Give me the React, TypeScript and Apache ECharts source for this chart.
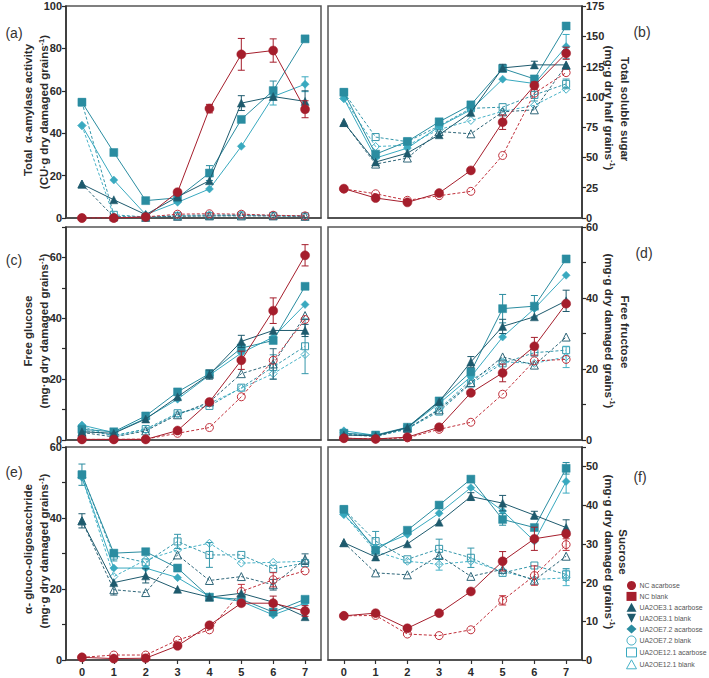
import React, { useEffect, useRef } from 'react';
import * as echarts from 'echarts';

const days = ['0', '1', '2', '3', '4', '5', '6', '7'];

// (a) Total alpha-amylase activity
const amyNCa = [0, 0, 0.5, 12.2, 51.6, 77.2, 79, 51.3];
const amyNCb = [0, 0, 0.5, 1.8, 2, 1.8, 1.3, 1];
const amyE3a = [16, 8.6, 1.6, 10, 17.6, 54.2, 57.3, 55];
const amyE3b = [16, 0.5, 0.3, 0.8, 1, 1, 1, 0.8];
const amyE7a = [43.6, 17.9, 1.6, 7.4, 13.7, 33.8, 57.3, 63.1];
const amyE7b = [43.6, 0.8, 0.3, 1.2, 1.5, 1.5, 1.2, 1];
const amyE12a = [54.6, 30.9, 8.2, 9.5, 21.2, 46.5, 60.1, 84.5];
const amyE12b = [54.6, 1.5, 0.5, 1, 1, 1.2, 1, 0.8];

// (b) Total soluble sugar
const sugNCa = [24.2, 16.5, 12.9, 20.6, 39.3, 79.1, 109.3, 136];
const sugNCb = [24, 20, 14.6, 18.4, 22, 51.6, 103, 120];
const sugE3a = [78.8, 46.2, 53.6, 68.7, 87, 123.9, 126.4, 126.4];
const sugE3b = [78.8, 44.5, 49.5, 71.4, 69.5, 87.6, 89.3, 126];
const sugE7a = [98.6, 49.5, 57.7, 75.5, 89.3, 114.6, 111, 141.5];
const sugE7b = [98.6, 59, 60, 73, 80.5, 88, 93, 106.3];
const sugE12a = [103.8, 52.7, 63.2, 79.4, 93.4, 123.4, 114.8, 158.5];
const sugE12b = [103.8, 66.8, 63, 76, 90.5, 91.5, 101.6, 110.7];

// (c) Free glucose
const gluNCa = [0.2, 0.2, 0.2, 3.1, 12.5, 26.2, 42.5, 60.7];
const gluNCb = [0.2, 0.2, 0.3, 2.2, 4.1, 14.2, 26.2, 39.6];
const gluE3a = [2.7, 2.2, 6.9, 14.2, 21.5, 32.4, 36, 36];
const gluE3b = [2.5, 1.0, 3.0, 8.3, 12.5, 21.8, 25, 40.9];
const gluE7a = [4.9, 2.4, 7.1, 13.4, 21.3, 28.6, 33.8, 44.5];
const gluE7b = [4.5, 1.2, 3.3, 8.5, 12, 17, 21.8, 28.1];
const gluE12a = [3.5, 2.7, 7.9, 15.8, 21.8, 30.2, 32.7, 50.5];
const gluE12b = [3.3, 1.5, 3.6, 8.8, 11.2, 17.2, 24, 30.8];

// (d) Free fructose
const fruNCa = [0.5, 0.3, 0.8, 3.6, 13.3, 18.9, 26.4, 38.4];
const fruNCb = [0.5, 0.3, 0.6, 3, 5, 12.9, 22.3, 22.7];
const fruE3a = [1.4, 1.2, 3.5, 10.8, 22, 32, 34.7, 39.2];
const fruE3b = [1.5, 1, 3.3, 8.5, 16.2, 23.4, 21.1, 29];
const fruE7a = [2.6, 1.3, 3.4, 10.3, 17.8, 29, 37, 46.4];
const fruE7b = [2, 1, 3, 8.8, 16.9, 22, 21.6, 23.4];
const fruE12a = [1.9, 1.4, 3.6, 11, 19.2, 37, 37.7, 51];
const fruE12b = [1.8, 1.2, 3.2, 8, 15.9, 21.6, 24.6, 25.3];

// (e) alpha-gluco-oligosaccharide
const oliNCa = [0.75, 0.4, 0.5, 4.0, 9.8, 16, 16, 13.8];
const oliNCb = [0.75, 1.4, 1.4, 5.6, 8.5, 19.3, 22.6, 25.1];
const oliE3a = [39.2, 21.8, 23.7, 19.9, 17.7, 18.8, 16.3, 12.2];
const oliE3b = [39.2, 19.8, 19, 29.6, 22.4, 23.5, 21.2, 28.4];
const oliE7a = [51.5, 25.9, 25.9, 23.2, 17.9, 16.5, 12.7, 16];
const oliE7b = [51.5, 23.5, 28.2, 31, 32.9, 27.3, 27.5, 27.8];
const oliE12a = [52.2, 30.1, 30.5, 25.9, 17.7, 17.1, 13.5, 17.1];
const oliE12b = [52.2, 29.4, 27.5, 33.4, 29.6, 29.6, 25.7, 27.3];

// (f) Sucrose
const sucNCa = [11.4, 12.1, 8.2, 12.1, 17.7, 25.5, 31.3, 32.6];
const sucNCb = [11.4, 11.5, 6.7, 6.3, 7.8, 15.4, 21.8, 29.8];
const sucE3a = [30.3, 26.6, 30, 35.6, 42.2, 40.5, 37.4, 34.2];
const sucE3b = [30.3, 22.5, 22, 27, 21.6, 23.4, 20.6, 26.8];
const sucE7a = [37.6, 29, 32.4, 37.9, 44.5, 38.5, 30.7, 46.1];
const sucE7b = [37.6, 28, 25.5, 24.7, 25.5, 22.9, 20.8, 21.2];
const sucE12a = [38.9, 28.3, 33.5, 40, 46.7, 36.3, 34.2, 49.5];
const sucE12b = [38.9, 30.7, 26, 28.7, 26.4, 22.5, 24.4, 22.1];

// error bars (half-lengths)
const amyErrNCa = [0, 0, 0, 1, 2, 7.5, 5.5, 4];
const amyErrE12a = [0, 0, 0, 0, 3.5, 0, 4.5, 0];
const amyErrE7a = [0, 0, 0, 0, 0, 0, 4, 3.5];
const amyErrE3a = [0, 0, 0, 0, 0, 3.5, 0, 5];
const sugErrNCa = [0, 0, 0, 0, 0, 6, 3, 5];
const sugErrE3a = [0, 0, 0, 0, 0, 3, 3, 0];
const sugErrE7a = [0, 0, 0, 0, 0, 0, 0, 10];
const sugErrE12b = [0, 0, 0, 0, 0, 0, 5, 4];
const gluErrNCa = [0, 0, 0, 0, 0, 3, 4.2, 3.5];
const gluErrE3a = [0, 0, 0, 0, 1.5, 2, 0, 2];
const gluErrE12b = [0, 0, 0, 0, 0, 0, 4, 9];
const gluErrE3b = [0, 0, 0, 0, 0, 0, 5, 0];
const fruErrE12a = [0, 0, 0, 0, 0, 4, 3, 0];
const fruErrNCa = [0, 0, 0, 0, 0, 2.5, 2.5, 0];
const fruErrE3a = [0, 0, 0, 0, 1.5, 2, 0, 3];
const fruErrE7b = [0, 0, 0, 0, 0, 0, 0, 3];
const oliErrE12a = [3, 0, 0, 0, 0, 0, 0, 0];
const oliErrE3a = [2, 0, 2, 0, 0, 0, 0, 0];
const oliErrE12b = [0, 1.5, 0, 2, 3.5, 0, 0, 0];
const oliErrE3b = [0, 1.5, 0, 0, 0, 0, 1.5, 1.5];
const oliErrNCb = [0, 0, 0, 0, 0, 2, 2, 0];
const oliErrNCa = [0, 0, 0, 0, 0, 0, 2, 1.5];
const sucErrE12b = [0, 2.5, 0, 2.5, 2.5, 0, 0, 1.5];
const sucErrE7b = [0, 0, 0, 1.5, 0, 0, 0, 2];
const sucErrNCa = [0, 0, 0, 0, 0, 2.5, 3, 0];
const sucErrE3a = [0, 0, 0, 0, 1, 2, 1, 2];
const sucErrE12a = [0, 0, 0, 0, 0, 1.5, 0, 1.5];
const sucErrE7a = [0, 0, 0, 0, 0, 0, 0, 3];
const sucErrNCb = [0, 0, 0, 0, 0, 1.2, 2.5, 1.5];

const legendNames = [
  'NC acarbose', 'NC blank', 'UA2OE3.1 acarbose', 'UA2OE3.1 blank',
  'UA2OE7.2 acarbose', 'UA2OE7.2 blank', 'UA2OE12.1 acarbose', 'UA2OE12.1 blank',
];

const RED = '#A51E2C';
const RED_O = '#C0303B';
const DARK = '#1E5A6D';
const DARK_O = '#2F6679';
const SQ = '#2A8CA0';
const SQ_O = '#3597AB';
const DIA = '#39A9BF';
const DIA_O = '#47B2C7';

// drawing order: dashed/open first, then filled, red filled last
const styles = [
  { key: 'E12b', name: legendNames[7], color: SQ_O, symbol: 'rect', open: true, size: 7 },
  { key: 'E7b', name: legendNames[5], color: DIA_O, symbol: 'diamond', open: true, size: 8 },
  { key: 'E3b', name: legendNames[3], color: DARK_O, symbol: 'triangle', open: true, size: 8 },
  { key: 'NCb', name: legendNames[1], color: RED_O, symbol: 'circle', open: true, size: 8 },
  { key: 'E7a', name: legendNames[4], color: DIA, symbol: 'diamond', open: false, size: 8 },
  { key: 'E12a', name: legendNames[6], color: SQ, symbol: 'rect', open: false, size: 8 },
  { key: 'E3a', name: legendNames[2], color: DARK, symbol: 'triangle', open: false, size: 8 },
  { key: 'NCa', name: legendNames[0], color: RED, symbol: 'circle', open: false, size: 9 },
];

const panels = [
  { data: { NCa: amyNCa, NCb: amyNCb, E3a: amyE3a, E3b: amyE3b, E7a: amyE7a, E7b: amyE7b, E12a: amyE12a, E12b: amyE12b },
    errs: { NCa: amyErrNCa, E12a: amyErrE12a, E7a: amyErrE7a, E3a: amyErrE3a } },
  { data: { NCa: sugNCa, NCb: sugNCb, E3a: sugE3a, E3b: sugE3b, E7a: sugE7a, E7b: sugE7b, E12a: sugE12a, E12b: sugE12b },
    errs: { NCa: sugErrNCa, E3a: sugErrE3a, E7a: sugErrE7a, E12b: sugErrE12b } },
  { data: { NCa: gluNCa, NCb: gluNCb, E3a: gluE3a, E3b: gluE3b, E7a: gluE7a, E7b: gluE7b, E12a: gluE12a, E12b: gluE12b },
    errs: { NCa: gluErrNCa, E3a: gluErrE3a, E12b: gluErrE12b, E3b: gluErrE3b } },
  { data: { NCa: fruNCa, NCb: fruNCb, E3a: fruE3a, E3b: fruE3b, E7a: fruE7a, E7b: fruE7b, E12a: fruE12a, E12b: fruE12b },
    errs: { E12a: fruErrE12a, NCa: fruErrNCa, E3a: fruErrE3a, E7b: fruErrE7b } },
  { data: { NCa: oliNCa, NCb: oliNCb, E3a: oliE3a, E3b: oliE3b, E7a: oliE7a, E7b: oliE7b, E12a: oliE12a, E12b: oliE12b },
    errs: { E12a: oliErrE12a, E3a: oliErrE3a, E12b: oliErrE12b, E3b: oliErrE3b, NCb: oliErrNCb, NCa: oliErrNCa } },
  { data: { NCa: sucNCa, NCb: sucNCb, E3a: sucE3a, E3b: sucE3b, E7a: sucE7a, E7b: sucE7b, E12a: sucE12a, E12b: sucE12b },
    errs: { E12b: sucErrE12b, E7b: sucErrE7b, NCa: sucErrNCa, E3a: sucErrE3a, E12a: sucErrE12a, E7a: sucErrE7a, NCb: sucErrNCb } },
];

const grids = [
  { left: 66, top: 6, width: 255, height: 212 },
  { left: 328, top: 6, width: 254, height: 212 },
  { left: 66, top: 227, width: 255, height: 213 },
  { left: 328, top: 227, width: 254, height: 213 },
  { left: 66, top: 447, width: 255, height: 213 },
  { left: 328, top: 447, width: 254, height: 213 },
];

const yCfg = [
  { min: 0, max: 100, interval: 20, step: 20, pos: 'left' },
  { min: 0, max: 175, interval: 25, step: 25, pos: 'right' },
  { min: 0, max: 70, interval: 10, step: 20, pos: 'left' },
  { min: 0, max: 60, interval: 10, step: 20, pos: 'right' },
  { min: 0, max: 60, interval: 10, step: 20, pos: 'left' },
  { min: 0, max: 55, interval: 10, step: 10, pos: 'right' },
];

const FONT = 'Liberation Sans, Arial, sans-serif';

function titleText(x: number, y: number, text: string, rot: number) {
  return {
    type: 'text',
    x, y, rotation: rot,
    style: {
      text,
      fill: '#2b2b2b',
      align: 'center',
      verticalAlign: 'middle',
      fontFamily: FONT,
      fontSize: 11.5,
      fontWeight: 'bold',
      rich: {
        sup: { fontSize: 7.5, fontWeight: 'bold', fontFamily: FONT, fill: '#2b2b2b', verticalAlign: 'top', lineHeight: 14 },
      },
    },
  };
}

function panelLabel(x: number, y: number, text: string) {
  return {
    type: 'text', x, y,
    style: { text, fill: '#333', fontFamily: FONT, fontSize: 14, align: 'center', verticalAlign: 'middle' },
  };
}

export default function App() {
  const ref = useRef<HTMLDivElement>(null);
  useEffect(() => {
    if (!ref.current) return;
    const chart = echarts.init(ref.current, undefined, { renderer: 'svg' });

    const series: any[] = [];
    panels.forEach((p, pi) => {
      styles.forEach((s, si) => {
        const vals = (p.data as any)[s.key] as number[];
        series.push({
          type: 'line',
          name: s.name,
          xAxisIndex: pi,
          yAxisIndex: pi,
          data: vals,
          symbol: s.symbol,
          symbolSize: s.size,
          z: 2 + si,
          lineStyle: { color: s.color, width: 1, type: s.open ? [3, 2] : 'solid' },
          itemStyle: s.open
            ? { color: 'rgba(255,255,255,0)', borderColor: s.color, borderWidth: 1 }
            : { color: s.color, borderColor: s.color, borderWidth: 0.5 },
          emphasis: { disabled: true },
          silent: true,
        });
        const errs = (p.errs as any)[s.key] as number[] | undefined;
        if (errs) {
          const ed = vals.map((v, i) => [i, v, errs[i]]).filter((d) => d[2] > 0);
          series.push({
            type: 'custom',
            xAxisIndex: pi,
            yAxisIndex: pi,
            z: 2 + si,
            silent: true,
            data: ed,
            encode: { x: 0, y: 1 },
            renderItem: (params: any, api: any) => {
              const x = api.value(0);
              const v = api.value(1);
              const e = api.value(2);
              const t = api.coord([x, v + e]);
              const b = api.coord([x, v - e]);
              const w = 3.5;
              const st = { stroke: s.color, lineWidth: 1 };
              return {
                type: 'group',
                children: [
                  { type: 'line', shape: { x1: t[0], y1: t[1], x2: b[0], y2: b[1] }, style: st },
                  { type: 'line', shape: { x1: t[0] - w, y1: t[1], x2: t[0] + w, y2: t[1] }, style: st },
                  { type: 'line', shape: { x1: b[0] - w, y1: b[1], x2: b[0] + w, y2: b[1] }, style: st },
                ],
              };
            },
          });
        }
      });
    });

    const xAxis = grids.map((g, i) => {
      const bottom = i >= 4;
      return {
        type: 'category',
        gridIndex: i,
        data: days,
        boundaryGap: true,
        axisLine: { show: true, lineStyle: { color: '#444', width: 1.5 } },
        axisTick: { show: bottom, alignWithLabel: true, length: 4, lineStyle: { color: '#333', width: 1.2 } },
        axisLabel: {
          show: bottom, color: '#2b2b2b', fontWeight: 'bold', fontSize: 11, fontFamily: FONT, margin: 6,
        },
        splitLine: { show: false },
      };
    });

    const yAxis = yCfg.map((c, i) => ({
      type: 'value',
      gridIndex: i,
      min: c.min,
      max: c.max,
      interval: c.interval,
      position: c.pos,
      axisLine: { show: true, lineStyle: { color: '#2b2b2b', width: 1.5 } },
      axisTick: { show: true, length: 4, lineStyle: { color: '#2b2b2b', width: 1.2 } },
      axisLabel: {
        color: '#2b2b2b', fontWeight: 'bold', fontSize: 11, fontFamily: FONT, margin: 4,
        formatter: (v: number) => (v % c.step === 0 && v <= c.max && (c.max % c.step === 0 || v !== c.max) ? String(v) : ''),
        showMaxLabel: true,
      },
      splitLine: { show: false },
    }));

    const gridOpts = grids.map((g) => ({
      ...g,
      show: true,
      borderColor: '#555',
      borderWidth: 1.5,
      backgroundColor: 'transparent',
      containLabel: false,
    }));

    const openStyle = (c: string) => ({ color: '#fff', borderColor: c, borderWidth: 1 });
    const legendData = [
      { name: legendNames[0], icon: 'circle', itemStyle: { color: RED, borderWidth: 0 } },
      { name: legendNames[1], icon: 'rect', itemStyle: { color: RED, borderWidth: 0 } },
      { name: legendNames[2], icon: 'triangle', itemStyle: { color: DARK, borderWidth: 0 } },
      { name: legendNames[3], icon: 'path://M0,0L10,0L5,10Z', itemStyle: { color: DARK, borderWidth: 0 } },
      { name: legendNames[4], icon: 'diamond', itemStyle: { color: SQ, borderWidth: 0 } },
      { name: legendNames[5], icon: 'circle', itemStyle: openStyle(DIA) },
      { name: legendNames[6], icon: 'rect', itemStyle: openStyle(DIA) },
      { name: legendNames[7], icon: 'triangle', itemStyle: openStyle(DIA_O) },
    ];

    const graphic = [
      panelLabel(14, 33, '(a)'),
      panelLabel(14, 260, '(c)'),
      panelLabel(14, 472, '(e)'),
      panelLabel(642, 32, '(b)'),
      panelLabel(644, 253, '(d)'),
      panelLabel(640, 477, '(f)'),
      titleText(28, 110, 'Total  α-amylase activity', Math.PI / 2),
      titleText(44, 112, '(CU·g dry damaged grains{sup|-1})', Math.PI / 2),
      titleText(28, 331, 'Free glucose', Math.PI / 2),
      titleText(44, 331, '(mg·g dry damaged grains{sup|-1})', Math.PI / 2),
      titleText(28, 549, 'α- gluco-oligosacchride', Math.PI / 2),
      titleText(44, 551, '(mg·g dry damaged grains{sup|-1})', Math.PI / 2),
      titleText(625, 109, 'Total soluble sugar', -Math.PI / 2),
      titleText(609, 108, '(mg·g dry half grains{sup|-1})', -Math.PI / 2),
      titleText(625, 332, 'Free fructose', -Math.PI / 2),
      titleText(609, 331, '(mg·g dry damaged grains{sup|-1})', -Math.PI / 2),
      titleText(623, 552, 'Sucrose', -Math.PI / 2),
      titleText(609, 552, '(mg·g dry damaged grains{sup|-1})', -Math.PI / 2),
    ];

    chart.setOption({
      animation: false,
      backgroundColor: '#ffffff',
      grid: gridOpts,
      xAxis,
      yAxis,
      series,
      graphic,
      legend: {
        show: true,
        orient: 'vertical',
        left: 626,
        top: 581,
        itemWidth: 10,
        itemHeight: 9,
        itemGap: 1.9,
        selectedMode: false,
        padding: 0,
        textStyle: { fontSize: 6.9, color: '#555', fontFamily: FONT, padding: [0, 0, 0, -2] },
        data: legendData,
      },
    });
    return () => chart.dispose();
  }, []);
  return (
    <div
      ref={ref}
      style={{ position: 'fixed', left: 0, top: 0, width: 709, height: 678, background: '#fff' }}
    />
  );
}
